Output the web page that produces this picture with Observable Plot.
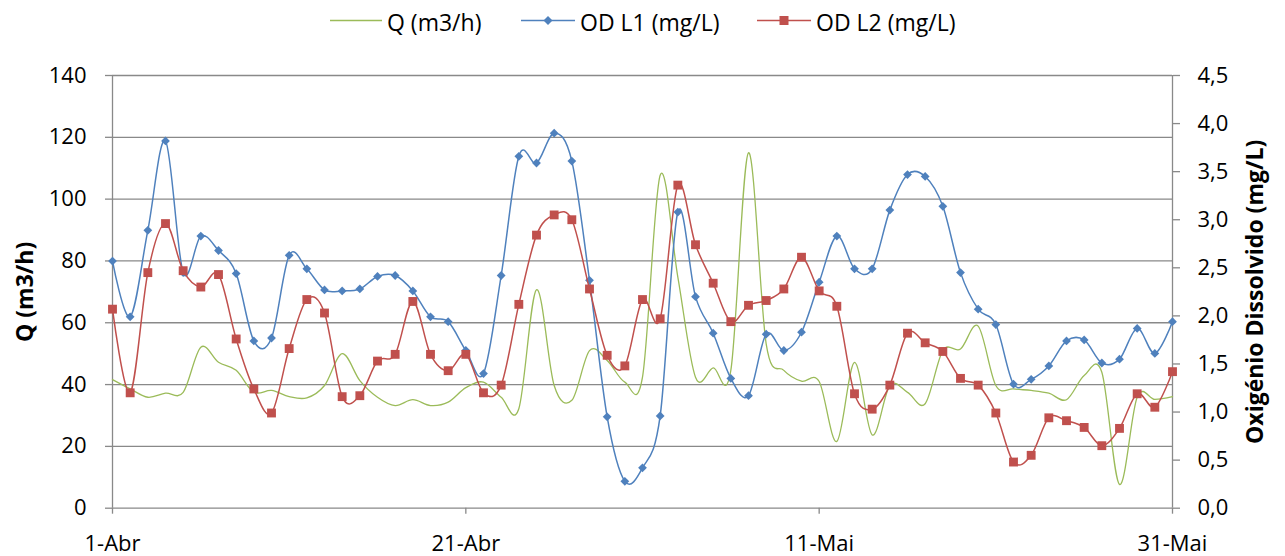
<!DOCTYPE html>
<html>
<head>
<meta charset="utf-8">
<script src="https://cdn.jsdelivr.net/npm/d3@7"></script>
<script src="https://cdn.jsdelivr.net/npm/@observablehq/plot@0.6"></script>
<style>
  html, body { margin: 0; padding: 0; background: #fff; }
  #legend { position: relative; width: 1285px; height: 40px; font-family: "Open Sans", sans-serif; font-size: 23px; color: #000; }
  #legend span { position: absolute; top: 2px; line-height: 40px; white-space: nowrap; }
  #legend svg { position: absolute; left: 0; top: 0; }
</style>
</head>
<body>
<div id="legend">
  <svg width="1285" height="40">
    <line x1="330" x2="382" y1="20.5" y2="20.5" stroke="#9BBB59" stroke-width="1.5"/>
    <line x1="521" x2="575" y1="20.5" y2="20.5" stroke="#4F81BD" stroke-width="1.5"/>
    <path d="M548,16 L552.5,20.5 L548,25 L543.5,20.5 Z" fill="#4F81BD"/>
    <line x1="757" x2="811" y1="20.5" y2="20.5" stroke="#C0504D" stroke-width="1.5"/>
    <rect x="779.5" y="16" width="9" height="9" fill="#C0504D"/>
  </svg>
  <span style="left:387px">Q (m3/h)</span>
  <span style="left:580px">OD L1 (mg/L)</span>
  <span style="left:816px">OD L2 (mg/L)</span>
</div>
<div id="chart"></div>
<script>
// ---- data ----
const startDate = new Date(Date.UTC(2013, 3, 1)); // 1-Abr
const Q = [41.6, 38.6, 35.9, 37.2, 37.5, 52.1, 47.2, 44.6, 37.5, 38.1,
           36.1, 35.7, 39.7, 50.0, 41.3, 35.9, 33.2, 35.1, 33.2, 34.3,
           39.0, 40.8, 35.9, 32.2, 70.7, 39.7, 34.9, 51.0, 47.8, 40.8,
           42.4, 107.7, 74.8, 42.4, 45.4, 44.6, 115.0, 53.2, 44.6, 41.1,
           41.0, 21.6, 47.2, 23.7, 39.7, 37.5, 33.8, 51.0, 51.5, 58.9,
           39.7, 38.6, 38.1, 37.2, 35.1, 42.9, 44.0, 7.7, 35.9, 35.2, 36.1];
const OD_L1 = [2.57, 1.99, 2.89, 3.82, 2.45, 2.83, 2.68, 2.44, 1.74, 1.77,
               2.63, 2.49, 2.27, 2.26, 2.28, 2.41, 2.42, 2.26, 1.99, 1.94,
               1.64, 1.40, 2.42, 3.66, 3.59, 3.90, 3.61, 2.37, 0.95, 0.28,
               0.42, 0.96, 3.08, 2.20, 1.82, 1.35, 1.17, 1.81, 1.64, 1.83,
               2.35, 2.83, 2.49, 2.49, 3.10, 3.47, 3.45, 3.14, 2.45, 2.07,
               1.91, 1.29, 1.34, 1.48, 1.74, 1.75, 1.51, 1.55, 1.87, 1.61, 1.94];
const OD_L2 = [2.07, 1.20, 2.45, 2.96, 2.47, 2.30, 2.43, 1.76, 1.24, 0.99,
               1.66, 2.17, 2.03, 1.16, 1.17, 1.53, 1.60, 2.15, 1.60, 1.43,
               1.60, 1.20, 1.28, 2.12, 2.84, 3.05, 3.00, 2.28, 1.59, 1.48,
               2.17, 1.97, 3.36, 2.74, 2.34, 1.94, 2.11, 2.16, 2.28, 2.61,
               2.26, 2.10, 1.19, 1.03, 1.28, 1.82, 1.72, 1.63, 1.35, 1.28,
               0.99, 0.48, 0.55, 0.94, 0.91, 0.84, 0.65, 0.83, 1.19, 1.05, 1.42];
const xTickDays = [0, 20, 40, 60];
const xTickLabels = ["1-Abr", "21-Abr", "11-Mai", "31-Mai"];
const leftTicks = [0, 20, 40, 60, 80, 100, 120, 140];
const rightTicks = [0, 0.5, 1, 1.5, 2, 2.5, 3, 3.5, 4, 4.5];
const leftMax = 140, rightMax = 4.5;
const leftTitle = "Q (m3/h)";
const rightTitle = "Oxigénio Dissolvido (mg/L)";

// ---- build table ----
const dates = Q.map((_, i) => d3.utcDay.offset(startDate, i));
const k = leftMax / rightMax;
const rows = dates.map((d, i) => ({date: d, q: Q[i], od1: OD_L1[i] * k, od2: OD_L2[i] * k}));
const xTickDates = xTickDays.map(i => dates[i]);
const fmtRight = v => d3.format(".1f")(v / k).replace(".", ",");

const diamond = {
  draw(ctx, size) {
    const r = Math.sqrt(size / 2);
    ctx.moveTo(0, -r); ctx.lineTo(r, 0); ctx.lineTo(0, r); ctx.lineTo(-r, 0); ctx.closePath();
  }
};

const grid = "#898989";
const chart = Plot.plot({
  width: 1285,
  height: 516,
  marginLeft: 112,
  marginRight: 113,
  marginTop: 35,
  marginBottom: 48.3,
  x: {type: "utc", domain: [dates[0], dates[dates.length - 1]]},
  y: {domain: [0, leftMax]},
  style: {fontFamily: "'Open Sans', sans-serif", fontSize: "22px", color: "#000", background: "#fff", overflow: "visible"},
  marks: [
    Plot.gridY(leftTicks, {stroke: grid, strokeOpacity: 1, strokeWidth: 1.3}),
    Plot.ruleX([dates[0], dates[dates.length - 1]], {stroke: grid, strokeWidth: 1.3}),
    Plot.axisY(leftTicks, {anchor: "left", tickSize: 7, tickPadding: 19, stroke: grid, strokeWidth: 1.3, label: null, fill: "#000"}),
    Plot.axisY(rightTicks.map(v => v * k), {anchor: "right", tickSize: 7, tickPadding: 18, stroke: grid, strokeWidth: 1.3, label: null, fill: "#000", tickFormat: fmtRight}),
    Plot.axisX(xTickDates, {tickSize: 6, tickPadding: 21, stroke: grid, strokeWidth: 1.3, label: null, fill: "#000", tickFormat: (d, i) => xTickLabels[i]}),
    Plot.text([leftTitle], {frameAnchor: "left", dx: -87, rotate: -90, textAnchor: "middle", fontWeight: "bold", fontSize: 23, fill: "#000"}),
    Plot.text([rightTitle], {frameAnchor: "right", dx: 83, rotate: -90, textAnchor: "middle", fontWeight: "bold", fontSize: 23, fill: "#000"}),
    Plot.line(rows, {x: "date", y: "q", stroke: "#9BBB59", strokeWidth: 1.3, curve: "cardinal", tension: 0}),
    Plot.line(rows, {x: "date", y: "od1", stroke: "#4F81BD", strokeWidth: 1.5, curve: "cardinal", tension: 0}),
    Plot.dot(rows, {x: "date", y: "od1", symbol: diamond, r: 3.5, fill: "#4F81BD", stroke: "none"}),
    Plot.line(rows, {x: "date", y: "od2", stroke: "#C0504D", strokeWidth: 1.5, curve: "cardinal", tension: 0}),
    Plot.dot(rows, {x: "date", y: "od2", symbol: "square", r: 5, fill: "#C0504D", stroke: "none"})
  ]
});
document.getElementById("chart").appendChild(chart);
</script>
</body>
</html>
